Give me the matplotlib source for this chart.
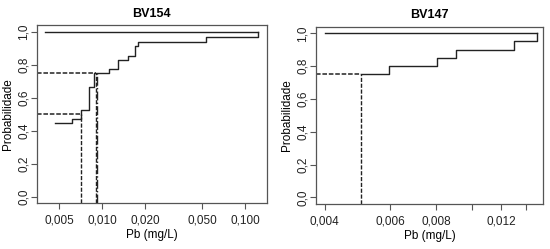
import matplotlib
matplotlib.use('Agg')
import matplotlib.pyplot as plt
from matplotlib.ticker import NullLocator, FixedLocator, FixedFormatter

plt.rcParams['font.family'] = ['Liberation Sans', 'DejaVu Sans']
plt.rcParams['font.size'] = 8.5

# BV154: degraus da curva de distribuicao (Pb em mg/L)
bv154_x = [0.00467, 0.00611, 0.00706, 0.00807, 0.00875, 0.0111, 0.0129,
           0.0152, 0.0169, 0.0179, 0.0528, 0.1233]
bv154_p = [0.444, 0.47, 0.528, 0.664, 0.748, 0.774, 0.828, 0.855, 0.915,
           0.94, 0.97, 1.0]
bv154_top_start = 0.00397
bv154_q_p = [0.5, 0.75]
bv154_q_x = [0.00706, 0.0090]
bv154_ticks = [0.005, 0.010, 0.020, 0.050, 0.100]
bv154_ticklabels = ['0,005', '0,010', '0,020', '0,050', '0,100']

# BV147
bv147_x = [0.00501, 0.00598, 0.00803, 0.00904, 0.01302, 0.0150]
bv147_p = [0.75, 0.80, 0.85, 0.90, 0.95, 1.0]
bv147_top_start = 0.0040
bv147_q_p = [0.75]
bv147_q_x = [0.00501]
bv147_ticks = [0.004, 0.006, 0.008, 0.010, 0.012, 0.014]
bv147_ticklabels = ['0,004', '0,006', '0,008', '', '0,012', '']

y_ticks = [0.0, 0.2, 0.4, 0.6, 0.8, 1.0]
y_ticklabels = ['0,0', '0,2', '0,4', '0,6', '0,8', '1,0']

line_c = '#222222'
frame_c = '#555555'

fig = plt.figure(figsize=(5.5, 2.49), dpi=100)
ax1 = fig.add_axes([0.0667, 0.1835, 0.418, 0.716])
ax2 = fig.add_axes([0.574, 0.1807, 0.414, 0.712])


def painel(ax, xs, ps, top_start, q_p, q_x, ticks, ticklabels, xlim, titulo):
    ax.set_xscale('log')
    ax.step(xs, ps, where='post', color=line_c, lw=1.0)
    ax.plot([top_start, xs[-1]], [1.0, 1.0], color=line_c, lw=1.0)
    ax.set_xlim(*xlim)
    ax.set_ylim(-0.04, 1.04)
    # linhas dos quantis
    for p, x in zip(q_p, q_x):
        ax.plot([xlim[0], x], [p, p], color=line_c, lw=1.1,
                linestyle=(0, (3, 1.2)))
        ax.plot([x, x], [-0.04, p], color=line_c, lw=1.0,
                linestyle=(0, (3, 1.2)))
    ax.xaxis.set_minor_locator(NullLocator())
    ax.xaxis.set_major_locator(FixedLocator(ticks))
    ax.xaxis.set_major_formatter(FixedFormatter(ticklabels))
    ax.set_yticks(y_ticks)
    ax.set_yticklabels(y_ticklabels, rotation=90, va='center')
    ax.tick_params(direction='out', length=4, width=0.8, color=frame_c,
                   labelsize=8.5, labelcolor='#222222')
    ax.tick_params(axis='x', pad=4)
    ax.tick_params(axis='y', pad=1)
    for s in ax.spines.values():
        s.set_color(frame_c)
        s.set_linewidth(0.9)
    ax.set_title(titulo, fontweight='bold', fontsize=9, pad=6)
    ax.set_xlabel('Pb (mg/L)', fontsize=8.5, labelpad=2)
    ax.set_ylabel('Probabilidade', fontsize=8.5, labelpad=3)


painel(ax1, bv154_x, bv154_p, bv154_top_start, bv154_q_p, bv154_q_x,
       bv154_ticks, bv154_ticklabels, (0.00348, 0.141), 'BV154')
# segunda linha vertical (traco-ponto) sobreposta no quantil 0,75
ax1.plot([0.00915, 0.00915], [-0.04, 0.75], color=line_c, lw=1.0,
         linestyle='-.')

painel(ax2, bv147_x, bv147_p, bv147_top_start, bv147_q_p, bv147_q_x,
       bv147_ticks, bv147_ticklabels, (0.00378, 0.01559), 'BV147')

fig.savefig('out.png', dpi=100)
